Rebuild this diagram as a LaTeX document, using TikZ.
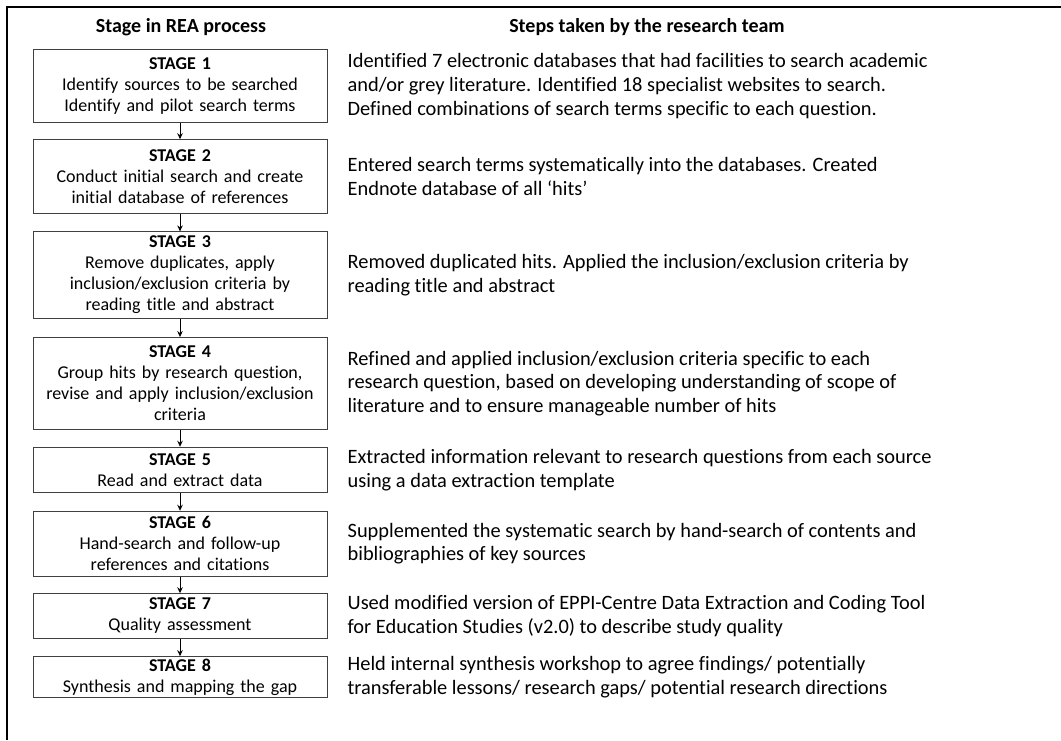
\documentclass[tikz,border=0pt]{standalone}
\usepackage{fontspec}
\setmainfont{Carlito}[Ligatures=CommonOff]
\usetikzlibrary{positioning, arrows.meta}

\tikzset{
  stagebox/.style={draw=black!75, line width=0.9pt, fill=white, align=center,
    text width=284pt, inner xsep=5pt, inner ysep=0pt,
    font=\fontsize{18}{21}\selectfont},
  desc/.style={align=left, inner sep=0pt, font=\fontsize{20.4}{23.8}\selectfont},
  heading/.style={font=\fontsize{20}{24}\selectfont\bfseries, inner sep=0pt},
}

\begin{document}
\begin{tikzpicture}[x=1pt, y=-1pt, >={Stealth[length=6pt, width=5.5pt]}]

\useasboundingbox (0,0) rectangle (1061,740);

% Frame (open to the right and bottom)
\draw[line width=2pt] (1061,7) -- (7,7) -- (7,740);

% Headings
\node[heading] (h1) at (181,27) {Stage in REA process};
\node[heading] (h2) at (647,27) {Steps taken by the research team};

% Stages
\node[stagebox, minimum height=72.8pt] (s1) at (180,85.9)
  {\textbf{STAGE 1}\\Identify sources to be searched\\Identify and pilot search terms};
\node[stagebox, minimum height=73.7pt] (s2) at (180,176.5)
  {\textbf{STAGE 2}\\Conduct initial search and create\\initial database of references};
\node[stagebox, minimum height=86.3pt] (s3) at (180,275)
  {\textbf{STAGE 3}\\Remove duplicates, apply\\inclusion/exclusion criteria by\\reading title and abstract};
\node[stagebox, minimum height=92.2pt] (s4) at (180,383.6)
  {\textbf{STAGE 4}\\Group hits by research question,\\revise and apply inclusion/exclusion\\criteria};
\node[stagebox, minimum height=45.6pt] (s5) at (180,470)
  {\textbf{STAGE 5}\\Read and extract data};
\node[stagebox, minimum height=65pt] (s6) at (180,543.7)
  {\textbf{STAGE 6}\\Hand-search and follow-up\\references and citations};
\node[stagebox, minimum height=44.6pt] (s7) at (180,616)
  {\textbf{STAGE 7}\\Quality assessment};
\node[stagebox, minimum height=40.7pt] (s8) at (180,677)
  {\textbf{STAGE 8}\\Synthesis and mapping the gap};

% Arrows between stages
\foreach \a/\b in {s1/s2, s2/s3, s3/s4, s4/s5, s5/s6, s6/s7, s7/s8}
  \draw[->, line width=0.9pt] (\a) -- (\b);

% Steps taken
\node[desc, right=20pt of s1] (t1)
  {Identified 7 electronic databases that had facilities to search academic\\and/or grey literature. Identified 18 specialist websites to search.\\Defined combinations of search terms specific to each question.};
\node[desc, right=20pt of s2] (t2)
  {Entered search terms systematically into the databases. Created\\Endnote database of all ‘hits’};
\node[desc, right=20pt of s3] (t3)
  {Removed duplicated hits. Applied the inclusion/exclusion criteria by\\reading title and abstract};
\node[desc, right=20pt of s4] (t4)
  {Refined and applied inclusion/exclusion criteria specific to each\\research question, based on developing understanding of scope of\\literature and to ensure manageable number of hits};
\node[desc, right=20pt of s5] (t5)
  {Extracted information relevant to research questions from each source\\using a data extraction template};
\node[desc, right=20pt of s6] (t6)
  {Supplemented the systematic search by hand-search of contents and\\bibliographies of key sources};
\node[desc, right=20pt of s7] (t7)
  {Used modified version of EPPI-Centre Data Extraction and Coding Tool\\for Education Studies (v2.0) to describe study quality};
\node[desc, right=20pt of s8] (t8)
  {Held internal synthesis workshop to agree findings/ potentially\\transferable lessons/ research gaps/ potential research directions};

\end{tikzpicture}
\end{document}
